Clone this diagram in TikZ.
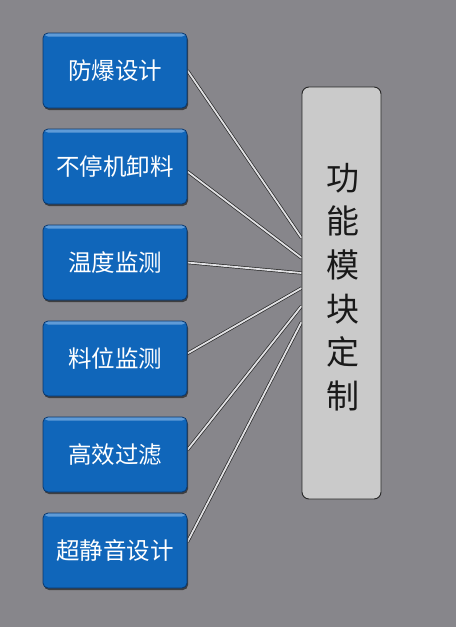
\documentclass[tikz,border=0pt]{standalone}
\usepackage{fontspec}
\newfontfamily\cjk{Noto Sans CJK SC}
\usetikzlibrary{calc,shadows}
\definecolor{bgc}{RGB}{135,134,139}
\definecolor{bluebox}{RGB}{16,102,186}
\definecolor{blueedge}{RGB}{8,55,110}
\definecolor{bluehi}{RGB}{95,155,215}
\definecolor{graybox}{RGB}{202,202,202}
\definecolor{linefill}{RGB}{225,225,228}
\pgfdeclarelayer{backdrop}
\pgfdeclarelayer{behind}
\pgfsetlayers{backdrop,behind,main}
\tikzset{
  bbox/.style={rectangle, rounded corners=5pt, minimum width=144pt, minimum height=75pt,
    inner sep=0pt, fill=bluebox, draw=blueedge, line width=0.8pt, text=white,
    font=\cjk\fontsize{23.5}{28}\selectfont,
    path picture={\fill[bluehi] (path picture bounding box.north west) rectangle ($(path picture bounding box.north east)+(0,3.5)$);},
    drop shadow={shadow xshift=1pt, shadow yshift=-2pt, fill=black!80, opacity=0.85}},
  gbox/.style={rectangle, rounded corners=7pt, minimum width=79pt, minimum height=412pt,
    inner sep=0pt, fill=graybox, draw=black!85, line width=0.9pt},
  vtext/.style={align=center, text=black!90, font=\cjk\fontsize{33}{43.6}\selectfont, inner sep=0pt},
  conn/.style={draw=black!85, line width=0.7pt, double=linefill, double distance=1.8pt}
}
\begin{document}
\begin{tikzpicture}[x=1pt,y=-1pt]
\begin{pgfonlayer}{backdrop}
\fill[bgc] (0,0) rectangle (456,627);
\end{pgfonlayer}
\useasboundingbox (0,0) rectangle (456,627);

\node[bbox] (b1) at (115,70.5) {防爆设计};
\node[bbox] (b2) at (115,166.5) {不停机卸料};
\node[bbox] (b3) at (115,262.5) {温度监测};
\node[bbox] (b4) at (115,358.5) {料位监测};
\node[bbox] (b5) at (115,454.5) {高效过滤};
\node[bbox] (b6) at (115,550.5) {超静音设计};

\node[gbox] (g) at (341.5,293) {};
\node[vtext] (t) at (343,287) {功\\能\\模\\块\\定\\制};

\begin{pgfonlayer}{behind}
\draw[conn] (b1.east) -- ($(g.west)+(0,-55)$);
\draw[conn] ($(b2.east)+(0,5)$) -- ($(g.west)+(0,-35)$);
\draw[conn] (b3.east) -- ($(g.west)+(0,-20)$);
\draw[conn] ($(b4.east)+(0,-5)$) -- ($(g.west)+(0,-5)$);
\draw[conn] ($(b5.east)+(0,-4.5)$) -- ($(g.west)+(0,13)$);
\draw[conn] ($(b6.east)+(0,-8.5)$) -- ($(g.west)+(0,29)$);
\end{pgfonlayer}
\end{tikzpicture}
\end{document}
